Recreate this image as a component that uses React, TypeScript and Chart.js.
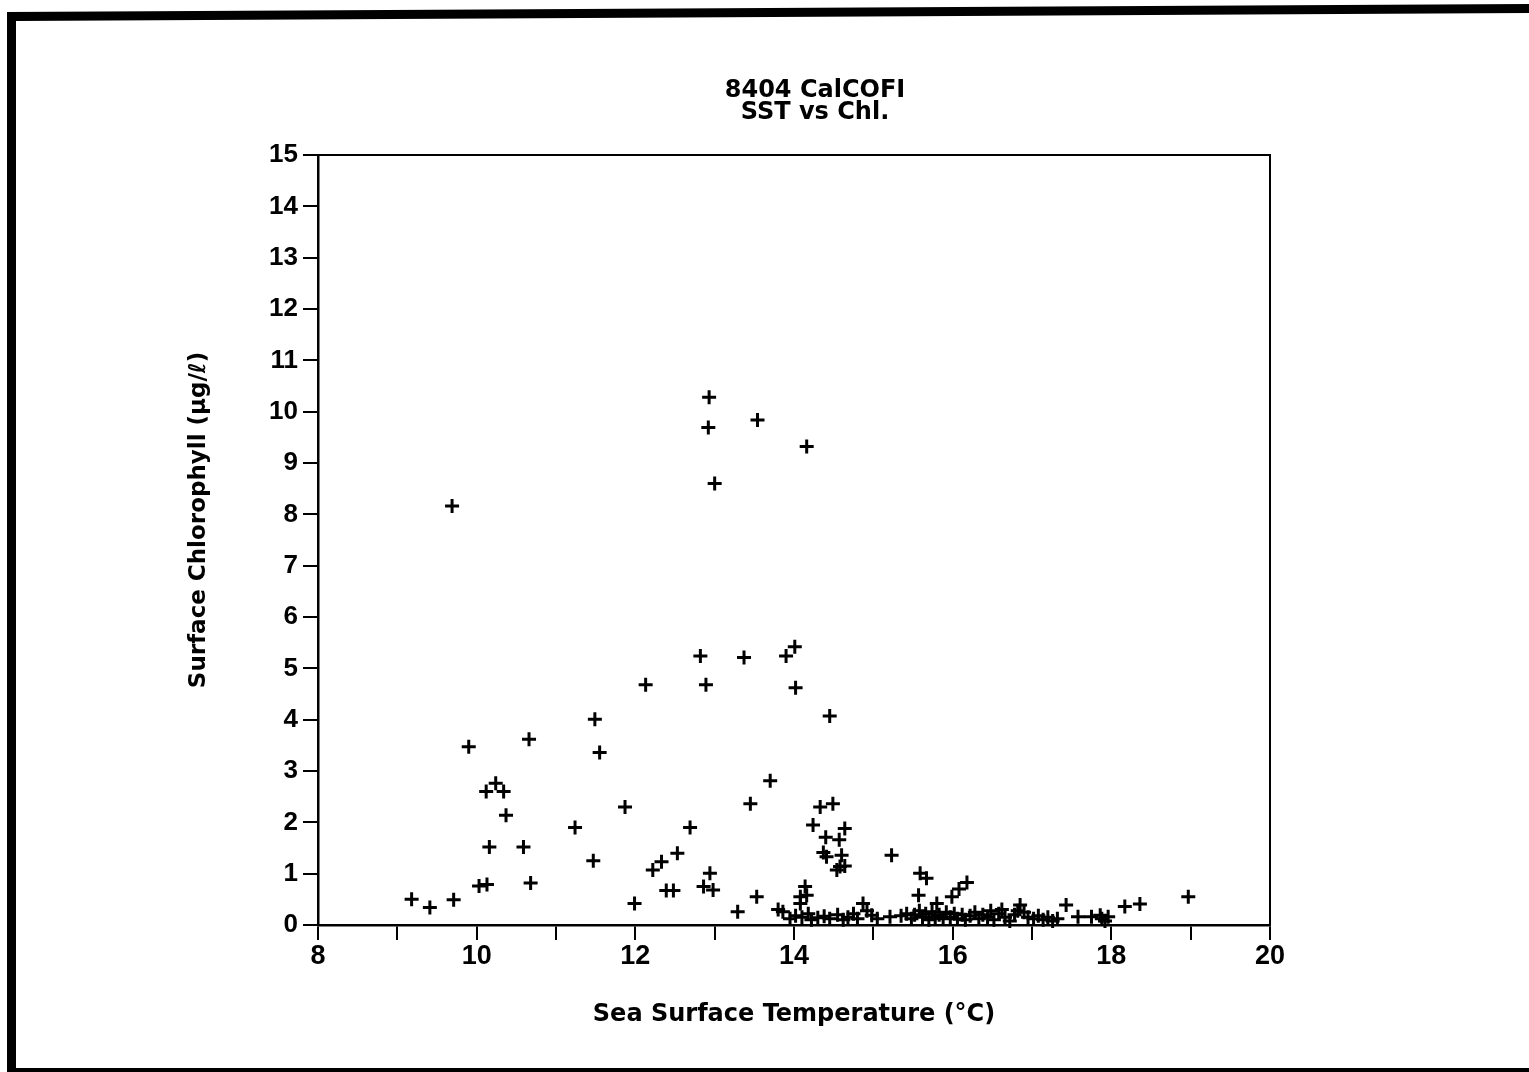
import React, { useEffect, useRef } from "react";
import { Chart, registerables } from "chart.js";

Chart.register(...registerables);

// Sea surface temperature (°C)
const sstValues: number[] = [
  12.93, 12.92, 13.54, 14.16, 13.0, 9.69, 12.82, 13.37, 13.9, 14.01,
  12.13, 12.89, 14.02, 11.49, 14.45, 9.9, 10.66, 11.55, 13.7, 10.12,
  10.24, 10.34, 10.37, 10.16, 10.59, 10.68, 10.03, 10.13, 9.18, 9.41,
  9.71, 11.24, 11.87, 11.47, 11.99, 12.69, 12.53, 12.22, 12.33, 12.39,
  12.48, 12.94, 12.86, 12.98, 13.29, 13.45, 13.53, 14.33, 14.49, 14.24,
  14.64, 14.4, 14.57, 14.37, 14.41, 14.6, 14.58, 14.54, 14.64, 15.23,
  14.14, 14.08, 14.16, 14.08, 13.8, 13.86, 15.59, 15.67, 15.57, 15.8,
  15.99, 16.08, 16.18, 16.85, 17.43, 17.58, 18.17, 18.36, 18.97, 17.86,
  17.96, 17.75, 14.87, 14.98, 15.21,
  13.95, 14.02, 14.1, 14.18, 14.22, 14.3, 14.38, 14.45, 14.55, 14.62,
  14.68, 14.75, 14.8, 14.92, 15.05, 15.35, 15.42, 15.48, 15.52, 15.58,
  15.62, 15.66, 15.7, 15.74, 15.78, 15.83, 15.88, 15.92, 15.97, 16.02,
  16.06, 16.12, 16.16, 16.22, 16.28, 16.33, 16.38, 16.44, 16.48, 16.52,
  16.58, 16.62, 16.66, 16.72, 16.78, 16.82, 16.9, 16.95, 17.02, 17.08,
  17.14, 17.2, 17.26, 17.32, 17.88, 17.92,
];

// Surface chlorophyll (µg/ℓ)
const chlValues: number[] = [
  10.28, 9.69, 9.84, 9.32, 8.6, 8.16, 5.24, 5.21, 5.24, 5.42,
  4.68, 4.68, 4.62, 4.01, 4.07, 3.47, 3.62, 3.36, 2.81, 2.6,
  2.76, 2.6, 2.14, 1.52, 1.52, 0.82, 0.76, 0.79, 0.5, 0.34,
  0.49, 1.9, 2.3, 1.25, 0.42, 1.9, 1.4, 1.07, 1.23, 0.67,
  0.67, 1.01, 0.75, 0.68, 0.26, 2.36, 0.55, 2.3, 2.36, 1.95,
  1.88, 1.71, 1.66, 1.41, 1.33, 1.36, 1.14, 1.07, 1.15, 1.36,
  0.75, 0.55, 0.58, 0.42, 0.3, 0.26, 1.01, 0.91, 0.58, 0.42,
  0.55, 0.7, 0.83, 0.39, 0.39, 0.16, 0.36, 0.41, 0.55, 0.19,
  0.16, 0.16, 0.42, 0.19, 0.16,
  0.12, 0.18, 0.15, 0.22, 0.1, 0.14, 0.17, 0.12, 0.2, 0.1,
  0.15, 0.22, 0.12, 0.28, 0.12, 0.18, 0.22, 0.12, 0.2, 0.28,
  0.15, 0.22, 0.1, 0.26, 0.15, 0.2, 0.12, 0.25, 0.15, 0.22,
  0.12, 0.2, 0.1, 0.18, 0.25, 0.12, 0.2, 0.15, 0.28, 0.1,
  0.22, 0.3, 0.15, 0.08, 0.2, 0.28, 0.25, 0.15, 0.12, 0.18,
  0.1, 0.15, 0.08, 0.12, 0.12, 0.08,
];

const xLabelValues: number[] = [8, 10, 12, 14, 16, 18, 20];
const titleLines: string[] = ["8404 CalCOFI", "SST vs Chl."];
const xAxisTitle = "Sea Surface Temperature (°C)";
const yAxisTitle = "Surface Chlorophyll (µg/ℓ)";

const W = 1529;
const H = 1072;

const framePlugin = {
  id: "scanFrame",
  beforeDraw(chart: any) {
    const ctx = chart.ctx;
    ctx.save();
    ctx.fillStyle = "#ffffff";
    ctx.fillRect(0, 0, W, H);
    ctx.fillStyle = "#000000";
    ctx.beginPath();
    ctx.moveTo(7, 12);
    ctx.lineTo(W, 4);
    ctx.lineTo(W, 13);
    ctx.lineTo(16, 21);
    ctx.closePath();
    ctx.fill();
    ctx.fillRect(7, 12, 9, H - 12);
    ctx.fillRect(7, 1068, W - 7, 4);
    ctx.restore();
  },
};

export default function App() {
  const canvasRef = useRef<HTMLCanvasElement | null>(null);

  useEffect(() => {
    if (!canvasRef.current) return;
    const points = sstValues.map((x, i) => ({ x, y: chlValues[i] }));
    const tickFontY = { family: "Liberation Sans", size: 26, weight: "bold" as const };
    const tickFontX = { family: "Liberation Sans", size: 27, weight: "bold" as const };
    const chart = new Chart(canvasRef.current, {
      type: "scatter",
      data: {
        datasets: [
          {
            data: points,
            pointStyle: "cross",
            pointRadius: 7,
            pointHoverRadius: 7,
            borderWidth: 3,
            borderColor: "#000000",
            backgroundColor: "#000000",
            clip: false as any,
          },
        ],
      },
      options: {
        responsive: false,
        animation: false,
        events: [],
        layout: { padding: { left: 101, right: 0, top: 0, bottom: 0 } },
        plugins: {
          legend: { display: false },
          tooltip: { enabled: false },
          title: {
            display: true,
            text: titleLines,
            color: "#000000",
            font: { family: "DejaVu Sans", size: 24, weight: "bold", lineHeight: 22 / 24 },
            padding: { top: 80, bottom: 10 },
          },
        },
        scales: {
          x: {
            type: "linear",
            position: "bottom",
            min: 8,
            max: 20,
            ticks: {
              stepSize: 1,
              autoSkip: false,
              maxRotation: 0,
              color: "#000000",
              font: tickFontX,
              padding: 0,
              callback: (v: any) => (xLabelValues.includes(Number(v)) ? String(v) : ""),
            },
            grid: {
              drawOnChartArea: false,
              drawTicks: true,
              tickLength: 15,
              color: "#000000",
              lineWidth: 2,
            },
            border: { display: true, color: "#000000", width: 2.5 },
            title: {
              display: true,
              text: xAxisTitle,
              color: "#000000",
              font: { family: "DejaVu Sans", size: 24, weight: "bold" },
              padding: { top: 0, bottom: 43 },
            },
            afterFit: (s: any) => {
              s.height = 147;
            },
          },
          x2: {
            type: "linear",
            position: "top",
            min: 8,
            max: 20,
            ticks: { display: false },
            grid: { display: false },
            border: { display: true, color: "#000000", width: 2 },
            afterFit: (s: any) => {
              s.height = 21;
            },
          },
          y: {
            type: "linear",
            position: "left",
            min: 0,
            max: 15,
            ticks: {
              stepSize: 1,
              autoSkip: false,
              color: "#000000",
              font: tickFontY,
              padding: 5,
            },
            grid: {
              drawOnChartArea: false,
              drawTicks: true,
              tickLength: 15,
              color: "#000000",
              lineWidth: 2,
            },
            border: { display: true, color: "#000000", width: 2.5 },
            title: {
              display: true,
              text: "\u00A0\u00A0\u00A0\u00A0\u00A0" + yAxisTitle,
              color: "#000000",
              font: { family: "DejaVu Sans", size: 23, weight: "bold" },
              padding: { top: 84, bottom: 0 },
            },
            afterFit: (s: any) => {
              s.width = 217;
            },
          },
          y2: {
            type: "linear",
            position: "right",
            min: 0,
            max: 15,
            ticks: { display: false },
            grid: { display: false },
            border: { display: true, color: "#000000", width: 2 },
            afterFit: (s: any) => {
              s.width = 259;
            },
          },
        },
      },
      plugins: [framePlugin],
    });
    return () => {
      chart.destroy();
    };
  }, []);

  return (
    <div style={{ position: "fixed", left: 0, top: 0, width: W, height: H, background: "#fff" }}>
      <canvas ref={canvasRef} width={W} height={H} style={{ display: "block", width: W, height: H }} />
    </div>
  );
}
